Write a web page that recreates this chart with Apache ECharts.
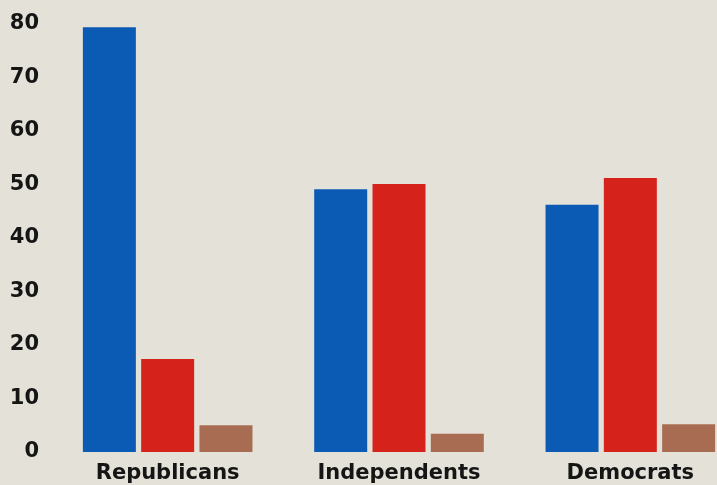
<!DOCTYPE html>
<html>
<head>
<meta charset="utf-8">
<script src="https://cdn.jsdelivr.net/npm/echarts@6/dist/echarts.min.js"></script>
<style>
  html, body { margin: 0; padding: 0; background: #e4e2d8; overflow: hidden; width: 717px; height: 485px; }
  #chart { width: 746px; height: 485px; }
</style>
</head>
<body>
<div id="chart"></div>
<script>
var categories = ['Republicans', 'Independents', 'Democrats'];
var blueValues = [79.4, 49.1, 46.2];
var redValues = [17.4, 50.1, 51.2];
var brownValues = [5.0, 3.4, 5.2];
var yTicks = [0, 10, 20, 30, 40, 50, 60, 70, 80];

var chart = echarts.init(document.getElementById('chart'), null, { renderer: 'canvas' });
var font = '"DejaVu Sans", sans-serif';
chart.setOption({
  backgroundColor: '#e4e2d8',
  animation: false,
  grid: { left: 52, top: 24, right: 0, height: 428, containLabel: false },
  xAxis: {
    type: 'category',
    data: categories,
    axisLine: { show: false },
    axisTick: { show: false },
    axisLabel: {
      margin: 11,
      color: '#151515',
      fontFamily: font,
      fontWeight: 'bold',
      fontSize: 21,
      lineHeight: 21
    }
  },
  yAxis: {
    type: 'value',
    min: yTicks[0],
    max: yTicks[yTicks.length - 1],
    interval: 10,
    axisLine: { show: false },
    axisTick: { show: false },
    splitLine: { show: false },
    axisLabel: {
      margin: 13,
      color: '#151515',
      fontFamily: font,
      fontWeight: 'bold',
      fontSize: 21
    }
  },
  series: [
    { name: 'Blue', type: 'bar', data: blueValues, barWidth: 53, barGap: '10%', itemStyle: { color: '#0b5bb4' } },
    { name: 'Red', type: 'bar', data: redValues, barWidth: 53, barGap: '10%', itemStyle: { color: '#d5221a' } },
    { name: 'Brown', type: 'bar', data: brownValues, barWidth: 53, barGap: '10%', itemStyle: { color: '#a86c52' } }
  ]
});
</script>
</body>
</html>
